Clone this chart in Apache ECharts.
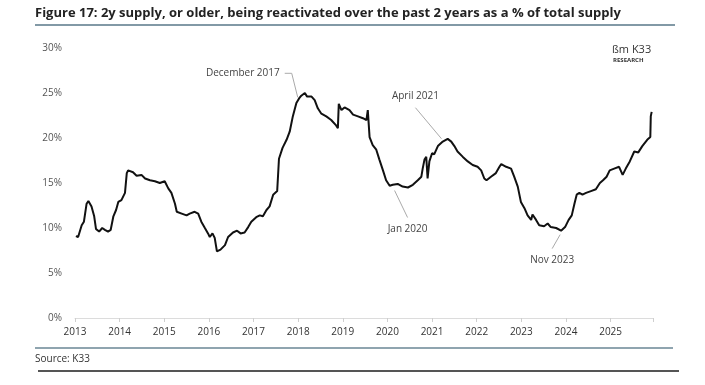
<!DOCTYPE html>
<html>
<head>
<meta charset="utf-8">
<script src="https://cdn.jsdelivr.net/npm/echarts@6/dist/echarts.min.js"></script>
<style>
html,body{margin:0;padding:0;background:#fff;}
#c{width:705px;height:385px;}
</style>
</head>
<body>
<div id="c"></div>
<script>
// Decimal years
var years = [2013.02,2013.07,2013.15,2013.20,2013.26,2013.30,2013.37,2013.43,2013.47,2013.54,2013.61,2013.67,2013.74,2013.80,2013.86,2013.92,2013.97,
2014.04,2014.12,2014.16,2014.19,2014.30,2014.38,2014.42,2014.49,2014.57,2014.68,2014.79,2014.90,
2015.01,2015.09,2015.16,2015.24,2015.28,2015.39,2015.50,2015.57,2015.68,2015.76,2015.83,2015.91,2015.98,
2016.02,2016.08,2016.13,2016.18,2016.26,2016.36,2016.43,2016.54,2016.63,2016.71,2016.80,2016.88,2016.95,
2017.06,2017.14,2017.21,2017.29,2017.36,2017.44,2017.53,2017.57,2017.65,2017.74,2017.81,2017.88,2017.96,
2018.02,2018.07,2018.15,2018.20,2018.30,2018.37,2018.44,2018.52,2018.63,2018.74,2018.85,2018.89,2018.91,2018.97,
2019.04,2019.15,2019.23,2019.34,2019.45,2019.53,2019.56,2019.60,2019.67,2019.75,2019.82,2019.90,2019.97,
2020.05,2020.12,2020.23,2020.34,2020.46,2020.57,2020.68,2020.76,2020.79,2020.83,2020.87,2020.90,2020.94,
2021.00,2021.05,2021.13,2021.24,2021.35,2021.43,2021.50,2021.57,2021.69,2021.80,2021.91,
2022.02,2022.10,2022.17,2022.22,2022.32,2022.43,2022.51,2022.55,2022.66,2022.77,2022.84,2022.92,2022.99,
2023.07,2023.14,2023.22,2023.25,2023.33,2023.40,2023.51,2023.59,2023.66,2023.78,2023.89,2023.98,
2024.06,2024.13,2024.19,2024.24,2024.30,2024.37,2024.45,2024.56,2024.67,2024.76,2024.83,2024.91,2024.98,
2025.08,2025.19,2025.27,2025.34,2025.43,2025.53,2025.62,2025.71,2025.82,2025.89,2025.90,2025.92];

// % of total supply
var values = [9.1,9.0,10.3,10.7,12.7,13.0,12.4,11.3,9.9,9.6,10.0,9.8,9.6,9.8,11.3,12.0,12.9,
13.1,13.9,16.1,16.4,16.2,15.8,16.0,15.9,15.5,15.3,15.2,15.0,
15.2,14.4,13.9,12.7,11.8,11.6,11.4,11.6,11.8,11.6,10.7,10.0,9.4,
9.0,9.4,8.9,7.4,7.6,8.1,9.0,9.5,9.7,9.4,9.5,10.1,10.7,
11.2,11.4,11.3,12.0,12.4,13.7,14.1,17.7,18.9,19.8,20.7,22.4,23.9,
24.4,24.7,25.0,24.6,24.6,24.2,23.3,22.7,22.4,22.0,21.4,21.1,23.8,23.1,
23.4,23.1,22.6,22.4,22.2,22.0,23.1,20.1,19.2,18.7,17.6,16.4,15.3,
14.7,14.8,14.9,14.6,14.5,14.8,15.3,15.7,16.6,17.6,17.9,15.5,17.4,
18.3,18.2,19.1,19.6,19.9,19.6,19.1,18.5,17.9,17.4,17.0,
16.8,16.4,15.5,15.3,15.7,16.1,16.8,17.1,16.8,16.6,15.7,14.6,12.9,
12.2,11.4,10.9,11.5,10.9,10.3,10.2,10.5,10.1,10.0,9.7,10.1,
10.9,11.4,12.7,13.7,13.9,13.7,13.9,14.1,14.3,15.0,15.3,15.7,16.4,
16.6,16.8,15.9,16.6,17.4,18.5,18.4,19.1,19.8,20.1,22.4,22.9];

var yTicks = [0,5,10,15,20,25,30];
var xTickYears = [2013,2014,2015,2016,2017,2018,2019,2020,2021,2022,2023,2024,2025];

var annotations = [
  {text:'December 2017', year:2017.99, value:24.3},
  {text:'April 2021', year:2021.21, value:19.7},
  {text:'Jan 2020', year:2020.16, value:14.5},
  {text:'Nov 2023', year:2023.87, value:9.6}
];

var FONT = '"Open Sans", Lato, sans-serif';
var chart = echarts.init(document.getElementById('c'));
var pts = years.map(function(y,i){return [y, values[i]];});

chart.setOption({
  animation:false,
  backgroundColor:'#fff',
  grid:{left:75,right:52,top:48,bottom:67},
  xAxis:{
    type:'value', min:xTickYears[0], max:2025.95, interval:1,
    axisLine:{show:true,lineStyle:{color:'#dcdcdc',width:1}},
    axisTick:{show:true,length:4,lineStyle:{color:'#cfcfcf'}},
    axisLabel:{color:'#333',fontSize:10,fontFamily:FONT,margin:9,
      formatter:function(v){return xTickYears.indexOf(Math.round(v))>=0?String(Math.round(v)):'';}},
    splitLine:{show:false}
  },
  yAxis:{
    type:'value', min:yTicks[0], max:yTicks[yTicks.length-1], interval:5,
    axisLine:{show:false}, axisTick:{show:false},
    axisLabel:{color:'#555',fontSize:10,fontFamily:FONT,margin:13,formatter:'{value}%'},
    splitLine:{show:false}
  },
  series:[{
    type:'line', data:pts, showSymbol:false, symbol:'none',
    lineStyle:{color:'#111',width:2}
  }]
});

function px(y,v){return chart.convertToPixel({gridIndex:0},[y,v]);}
var g = [];
// title
g.push({type:'text',left:35,top:7,style:{text:'Figure 17: 2y supply, or older, being reactivated over the past 2 years as a % of total supply',fontSize:13,fontWeight:'bold',fontFamily:FONT,fill:'#222'}});
g.push({type:'line',shape:{x1:35,y1:25,x2:675,y2:25},style:{stroke:'#8299a6',lineWidth:2}});
// footer
g.push({type:'line',shape:{x1:35,y1:348,x2:673,y2:348},style:{stroke:'#8fa4af',lineWidth:2}});
g.push({type:'text',left:35,top:354,style:{text:'Source: K33',fontSize:10,fontFamily:FONT,fill:'#333'}});
g.push({type:'line',shape:{x1:38,y1:371,x2:679,y2:371},style:{stroke:'#555',lineWidth:2}});
// logo
g.push({type:'text',left:612,top:44,style:{text:'\u00dfm K33',fontSize:11,fontFamily:FONT,fill:'#333'}});
g.push({type:'text',left:613,top:57,style:{text:'RESEARCH',fontSize:6,fontWeight:'bold',fontFamily:FONT,fill:'#333'}});

// annotations (leader ends derived from data values)
var a0 = px(annotations[0].year, annotations[0].value);
g.push({type:'polyline',shape:{points:[[a0[0]-13,a0[1]-26],[a0[0]-6,a0[1]-26],[a0[0],a0[1]-2]]},style:{stroke:'#aaa',lineWidth:1,fill:null}});
g.push({type:'text',x:a0[0]-18,y:a0[1]-26,style:{text:annotations[0].text,fontSize:10,fontFamily:FONT,fill:'#444',align:'right',verticalAlign:'middle'}});

var a1 = px(annotations[1].year, annotations[1].value);
g.push({type:'line',shape:{x1:a1[0],y1:a1[1]-2,x2:a1[0]-26,y2:a1[1]-33},style:{stroke:'#aaa',lineWidth:1}});
g.push({type:'text',x:a1[0]-26,y:a1[1]-45,style:{text:annotations[1].text,fontSize:10,fontFamily:FONT,fill:'#444',align:'center',verticalAlign:'middle'}});

var a2 = px(annotations[2].year, annotations[2].value);
g.push({type:'line',shape:{x1:a2[0],y1:a2[1]+3,x2:a2[0]+13,y2:a2[1]+30},style:{stroke:'#aaa',lineWidth:1}});
g.push({type:'text',x:a2[0]+13,y:a2[1]+42,style:{text:annotations[2].text,fontSize:10,fontFamily:FONT,fill:'#444',align:'center',verticalAlign:'middle'}});

var a3 = px(annotations[3].year, annotations[3].value);
g.push({type:'line',shape:{x1:a3[0],y1:a3[1]+3,x2:a3[0]-8,y2:a3[1]+17},style:{stroke:'#aaa',lineWidth:1}});
g.push({type:'text',x:a3[0]-8,y:a3[1]+29,style:{text:annotations[3].text,fontSize:10,fontFamily:FONT,fill:'#444',align:'center',verticalAlign:'middle'}});

chart.setOption({graphic:g});
</script>
</body>
</html>
